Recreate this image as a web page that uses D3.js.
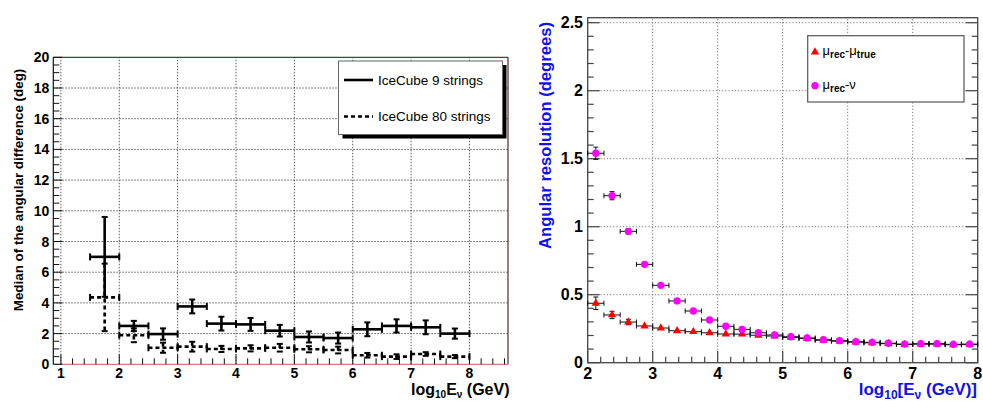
<!DOCTYPE html>
<html>
<head>
<meta charset="utf-8">
<script src="https://cdn.jsdelivr.net/npm/d3@7"></script>
<style>
  html, body { margin: 0; padding: 0; background: #fff; }
  svg { display: block; font-family: "Liberation Sans", Arial, Helvetica, sans-serif; }
</style>
</head>
<body>
<svg id="chart" width="983" height="402"></svg>
<script>
// ---- Left panel: median angular difference per energy bin ----
const binLow = [1.5, 2.0, 2.5, 3.0, 3.5, 4.0, 4.5, 5.0, 5.5, 6.0, 6.5, 7.0, 7.5];
const binHigh = [2.0, 2.5, 3.0, 3.5, 4.0, 4.5, 5.0, 5.5, 6.0, 6.5, 7.0, 7.5, 8.0];
const ic9 = [7.0, 2.5, 1.97, 3.77, 2.65, 2.6, 2.19, 1.78, 1.71, 2.28, 2.5, 2.41, 2.0];
const ic9Err = [2.6, 0.33, 0.37, 0.45, 0.45, 0.42, 0.38, 0.36, 0.36, 0.45, 0.43, 0.45, 0.33];
const ic80 = [4.36, 1.89, 1.08, 1.15, 1.0, 1.04, 1.08, 0.98, 0.93, 0.59, 0.5, 0.67, 0.5];
const ic80Err = [2.2, 0.45, 0.33, 0.32, 0.2, 0.2, 0.25, 0.2, 0.22, 0.15, 0.15, 0.12, 0.1];
const leftXTicks = [1, 2, 3, 4, 5, 6, 7, 8];
const leftYTicks = [0, 2, 4, 6, 8, 10, 12, 14, 16, 18, 20];
const leftLegend = ["IceCube 9 strings", "IceCube 80 strings"];

// ---- Right panel: angular resolution vs neutrino energy ----
const logE = [2.125, 2.375, 2.625, 2.875, 3.125, 3.375, 3.625, 3.875, 4.125, 4.375, 4.625, 4.875,
              5.125, 5.375, 5.625, 5.875, 6.125, 6.375, 6.625, 6.875, 7.125, 7.375, 7.625, 7.875];
const halfBin = 0.125;
const muMu = [0.437, 0.351, 0.299, 0.27, 0.255, 0.235, 0.228, 0.22, 0.211, 0.21, 0.202, 0.196,
              0.186, 0.178, 0.165, 0.158, 0.151, 0.146, 0.14, 0.134, 0.136, 0.136, 0.132, 0.133];
const muMuErr = [0.046, 0.027, 0.02, 0.012, 0.01, 0.008, 0.007, 0.006, 0.006, 0.005, 0.005, 0.005,
                 0.004, 0.004, 0.004, 0.004, 0.004, 0.004, 0.004, 0.004, 0.004, 0.004, 0.004, 0.004];
const muNu = [1.54, 1.228, 0.966, 0.723, 0.569, 0.454, 0.38, 0.314, 0.268, 0.245, 0.22, 0.204,
              0.191, 0.182, 0.169, 0.162, 0.154, 0.15, 0.143, 0.137, 0.14, 0.14, 0.135, 0.137];
const muNuErr = [0.045, 0.03, 0.02, 0.012, 0.01, 0.008, 0.007, 0.006, 0.006, 0.005, 0.005, 0.005,
                 0.004, 0.004, 0.004, 0.004, 0.004, 0.004, 0.004, 0.004, 0.004, 0.004, 0.004, 0.004];
const rightXTicks = [2, 3, 4, 5, 6, 7, 8];
const rightYTicks = [0, 0.5, 1, 1.5, 2, 2.5];

const svg = d3.select("#chart");

// =================== LEFT PANEL ===================
const L = { x0: 53.3, x1: 508, y0: 364.3, y1: 57.3 };
const xL = d3.scaleLinear().domain([0.87, 8.66]).range([L.x0, L.x1]);
const yL = d3.scaleLinear().domain([0, 20]).range([L.y0, L.y1]);
const gL = svg.append("g");

// grid
gL.selectAll("line.gx").data(leftXTicks).join("line")
  .attr("x1", d => xL(d)).attr("x2", d => xL(d))
  .attr("y1", L.y0).attr("y2", L.y1)
  .attr("stroke", "#333").attr("stroke-width", 0.8).attr("stroke-dasharray", "1.5,1.5");
gL.selectAll("line.gy").data(leftYTicks.filter(d => d > 0 && d < 20)).join("line")
  .attr("x1", L.x0).attr("x2", L.x1)
  .attr("y1", d => yL(d)).attr("y2", d => yL(d))
  .attr("stroke", "#333").attr("stroke-width", 0.8).attr("stroke-dasharray", "1.5,1.5");

// frame
gL.append("line").attr("x1", L.x0).attr("x2", L.x1).attr("y1", L.y1).attr("y2", L.y1)
  .attr("stroke", "#6a3434").attr("stroke-width", 1.2);
gL.append("line").attr("x1", L.x1).attr("x2", L.x1).attr("y1", L.y1).attr("y2", L.y0)
  .attr("stroke", "#4a2a2a").attr("stroke-width", 1.2);
gL.append("line").attr("x1", L.x0).attr("x2", L.x1).attr("y1", L.y0).attr("y2", L.y0)
  .attr("stroke", "#d07a7a").attr("stroke-width", 1.2);
gL.append("line").attr("x1", L.x0).attr("x2", L.x0).attr("y1", L.y1).attr("y2", L.y0)
  .attr("stroke", "#111").attr("stroke-width", 1.2);

// y ticks (major every 2, minor every 0.5)
const yMinorL = d3.range(0, 20.001, 0.5);
gL.selectAll("line.ty").data(yMinorL).join("line")
  .attr("x1", L.x0).attr("x2", d => L.x0 + (Math.abs(d % 2) < 1e-6 ? 9 : 6))
  .attr("y1", d => yL(d)).attr("y2", d => yL(d))
  .attr("stroke", "#111").attr("stroke-width", 1);
// x ticks (major every 1, minor every 0.2)
const xMinorL = d3.range(1, 8.66, 0.2);
gL.selectAll("line.tx").data(xMinorL).join("line")
  .attr("x1", d => xL(d)).attr("x2", d => xL(d))
  .attr("y1", L.y0).attr("y2", d => L.y0 - (Math.abs(d - Math.round(d)) < 1e-6 ? 10 : 6))
  .attr("stroke", "#111").attr("stroke-width", 1);

// tick labels
gL.selectAll("text.ly").data(leftYTicks).join("text")
  .attr("x", L.x0 - 4).attr("y", d => yL(d)).attr("dy", "0.36em")
  .attr("text-anchor", "end").attr("font-size", 14).attr("font-weight", "bold")
  .text(d => d);
gL.selectAll("text.lx").data(leftXTicks).join("text")
  .attr("x", d => xL(d)).attr("y", 377.5)
  .attr("text-anchor", "middle").attr("font-size", 14).attr("font-weight", "bold")
  .text(d => d);

// axis titles
gL.append("text").attr("transform", "translate(23,190) rotate(-90)")
  .attr("text-anchor", "middle").attr("font-size", 13.4).attr("font-weight", "bold")
  .text("Median of the angular difference (deg)");
const xtL = gL.append("text").attr("x", 411).attr("y", 395)
  .attr("font-size", 16).attr("font-weight", "bold");
xtL.append("tspan").text("log");
xtL.append("tspan").attr("font-size", 10).attr("dy", 3).text("10");
xtL.append("tspan").attr("dy", -3).text("E");
xtL.append("tspan").attr("font-size", 10).attr("dy", 3).text("ν");
xtL.append("tspan").attr("dy", -3).text(" (GeV)");

// binned series with error bars
function drawBinned(g, vals, errs, dash) {
  const s = g.append("g").attr("stroke", "#000").attr("stroke-width", 2.6)
    .attr("stroke-dasharray", dash).attr("fill", "none");
  vals.forEach((v, i) => {
    const xa = xL(binLow[i]), xb = xL(binHigh[i]), xc = xL((binLow[i] + binHigh[i]) / 2);
    const yv = yL(v), yt = yL(v + errs[i]), yb = yL(Math.max(0, v - errs[i]));
    s.append("line").attr("x1", xa).attr("x2", xb).attr("y1", yv).attr("y2", yv);
    s.append("line").attr("x1", xc).attr("x2", xc).attr("y1", yt).attr("y2", yb);
    // end caps
    const c = g.append("g").attr("stroke", "#000").attr("stroke-width", 2);
    c.append("line").attr("x1", xa).attr("x2", xa).attr("y1", yv - 3.5).attr("y2", yv + 3.5);
    c.append("line").attr("x1", xb).attr("x2", xb).attr("y1", yv - 3.5).attr("y2", yv + 3.5);
    c.append("line").attr("x1", xc - 3).attr("x2", xc + 3).attr("y1", yt).attr("y2", yt);
    c.append("line").attr("x1", xc - 3).attr("x2", xc + 3).attr("y1", yb).attr("y2", yb);
  });
}
drawBinned(gL, ic80, ic80Err, "4,3");
drawBinned(gL, ic9, ic9Err, null);

// legend
const lg = gL.append("g");
lg.append("rect").attr("x", 342.5).attr("y", 65).attr("width", 164).attr("height", 73.5).attr("fill", "#000");
lg.append("rect").attr("x", 338.5).attr("y", 61).attr("width", 164).attr("height", 73.5)
  .attr("fill", "#fff").attr("stroke", "#666").attr("stroke-width", 1);
const legY = [80, 116.5];
leftLegend.forEach((t, i) => {
  lg.append("line").attr("x1", 344).attr("x2", 373).attr("y1", legY[i]).attr("y2", legY[i])
    .attr("stroke", "#000").attr("stroke-width", 2.6).attr("stroke-dasharray", i ? "4,3" : null);
  lg.append("text").attr("x", 378).attr("y", legY[i]).attr("dy", "0.36em")
    .attr("font-size", 13.5).text(t);
});

// =================== RIGHT PANEL ===================
const R = { x0: 587.7, x1: 977.7, y0: 362.7, yTop: 17.7 };
const xR = d3.scaleLinear().domain([2, 8]).range([R.x0, R.x1]);
const yR = d3.scaleLinear().domain([0, 2.5]).range([R.y0, 22.7]);
const gR = svg.append("g");

gR.selectAll("line.gx").data(rightXTicks.filter(d => d > 2 && d < 8)).join("line")
  .attr("x1", d => xR(d)).attr("x2", d => xR(d)).attr("y1", R.y0).attr("y2", R.yTop)
  .attr("stroke", "#555").attr("stroke-width", 0.8).attr("stroke-dasharray", "1.2,2");
gR.selectAll("line.gy").data(rightYTicks.filter(d => d > 0)).join("line")
  .attr("x1", R.x0).attr("x2", R.x1).attr("y1", d => yR(d)).attr("y2", d => yR(d))
  .attr("stroke", "#555").attr("stroke-width", 0.8).attr("stroke-dasharray", "1.2,2");

// frame
gR.append("rect").attr("x", R.x0).attr("y", R.yTop).attr("width", R.x1 - R.x0).attr("height", R.y0 - R.yTop)
  .attr("fill", "none").attr("stroke", "#444").attr("stroke-width", 1.3);

// y ticks both sides, minor every 0.1
const yMinorR = d3.range(0, 2.5001, 0.1);
const isMajR = d => Math.abs(d * 2 - Math.round(d * 2)) < 1e-6;
gR.selectAll("line.tyl").data(yMinorR).join("line")
  .attr("x1", R.x0).attr("x2", d => R.x0 + (isMajR(d) ? 12 : 6))
  .attr("y1", d => yR(d)).attr("y2", d => yR(d)).attr("stroke", "#444").attr("stroke-width", 1.2);
gR.selectAll("line.tyr").data(yMinorR).join("line")
  .attr("x1", R.x1).attr("x2", d => R.x1 - (isMajR(d) ? 12 : 6))
  .attr("y1", d => yR(d)).attr("y2", d => yR(d)).attr("stroke", "#444").attr("stroke-width", 1.2);
// x ticks, minor every 0.2
const xMinorR = d3.range(2, 8.0001, 0.2);
gR.selectAll("line.tx").data(xMinorR).join("line")
  .attr("x1", d => xR(d)).attr("x2", d => xR(d))
  .attr("y1", R.y0).attr("y2", d => R.y0 - (Math.abs(d - Math.round(d)) < 1e-6 ? 12 : 6))
  .attr("stroke", "#444").attr("stroke-width", 1.2);

gR.selectAll("text.ly").data(rightYTicks).join("text")
  .attr("x", 583).attr("y", d => yR(d)).attr("dy", "0.36em")
  .attr("text-anchor", "end").attr("font-size", 16).attr("font-weight", "bold")
  .text(d => d);
gR.selectAll("text.lx").data(rightXTicks).join("text")
  .attr("x", d => xR(d)).attr("y", 379)
  .attr("text-anchor", "middle").attr("font-size", 16).attr("font-weight", "bold")
  .text(d => d);

gR.append("text").attr("transform", "translate(551,135.5) rotate(-90)")
  .attr("text-anchor", "middle").attr("font-size", 16.6).attr("font-weight", "bold")
  .attr("fill", "#1010f0").text("Angular resolution (degrees)");
const xtR = gR.append("text").attr("x", 977).attr("y", 395).attr("text-anchor", "end")
  .attr("font-size", 17).attr("font-weight", "bold").attr("fill", "#1010f0");
xtR.append("tspan").text("log");
xtR.append("tspan").attr("font-size", 12).attr("dy", 3.5).text("10");
xtR.append("tspan").attr("dy", -3.5).text("[E");
xtR.append("tspan").attr("font-size", 12).attr("dy", 3.5).text("ν");
xtR.append("tspan").attr("dy", -3.5).text(" (GeV)]");

// error bars and markers
function drawPoints(vals, errs, shape, color) {
  const g = gR.append("g");
  vals.forEach((v, i) => {
    const xa = xR(logE[i] - halfBin), xb = xR(logE[i] + halfBin), xc = xR(logE[i]);
    const yv = yR(v), yt = yR(v + errs[i]), yb = yR(v - errs[i]);
    const e = g.append("g").attr("stroke", "#111").attr("stroke-width", 1);
    e.append("line").attr("x1", xa).attr("x2", xb).attr("y1", yv).attr("y2", yv);
    e.append("line").attr("x1", xa).attr("x2", xa).attr("y1", yv - 2.5).attr("y2", yv + 2.5);
    e.append("line").attr("x1", xb).attr("x2", xb).attr("y1", yv - 2.5).attr("y2", yv + 2.5);
    if (yb - yt > 4) {
      e.append("line").attr("x1", xc).attr("x2", xc).attr("y1", yt).attr("y2", yb);
      e.append("line").attr("x1", xc - 2.5).attr("x2", xc + 2.5).attr("y1", yt).attr("y2", yt);
      e.append("line").attr("x1", xc - 2.5).attr("x2", xc + 2.5).attr("y1", yb).attr("y2", yb);
    }
  });
  g.selectAll("path.m").data(vals).join("path")
    .attr("transform", (d, i) => `translate(${xR(logE[i])},${yR(d)})`)
    .attr("d", d3.symbol(shape, shape === d3.symbolTriangle ? 30 : 42)())
    .attr("fill", color);
}
drawPoints(muMu, muMuErr, d3.symbolTriangle, "#ff0000");
drawPoints(muNu, muNuErr, d3.symbolCircle, "#ff00ff");

// legend
const lr = gR.append("g");
lr.append("rect").attr("x", 807.7).attr("y", 35.7).attr("width", 156.3).attr("height", 66.3)
  .attr("fill", "#fff").attr("stroke", "#555").attr("stroke-width", 1.2);
lr.append("path").attr("transform", "translate(815,52)").attr("d", d3.symbol(d3.symbolTriangle, 30)()).attr("fill", "#ff0000");
lr.append("path").attr("transform", "translate(815,85.7)").attr("d", d3.symbol(d3.symbolCircle, 42)()).attr("fill", "#ff00ff");
const t1 = lr.append("text").attr("x", 822.5).attr("y", 55).attr("font-size", 13);
t1.append("tspan").text("μ");
t1.append("tspan").attr("font-size", 10).attr("font-weight", "bold").attr("dy", 3).text("rec");
t1.append("tspan").attr("dy", -3).text("-μ");
t1.append("tspan").attr("font-size", 10).attr("font-weight", "bold").attr("dy", 3).text("true");
const t2 = lr.append("text").attr("x", 822.5).attr("y", 89).attr("font-size", 13);
t2.append("tspan").text("μ");
t2.append("tspan").attr("font-size", 10).attr("font-weight", "bold").attr("dy", 3).text("rec");
t2.append("tspan").attr("dy", -3).text("-ν");
</script>
</body>
</html>
